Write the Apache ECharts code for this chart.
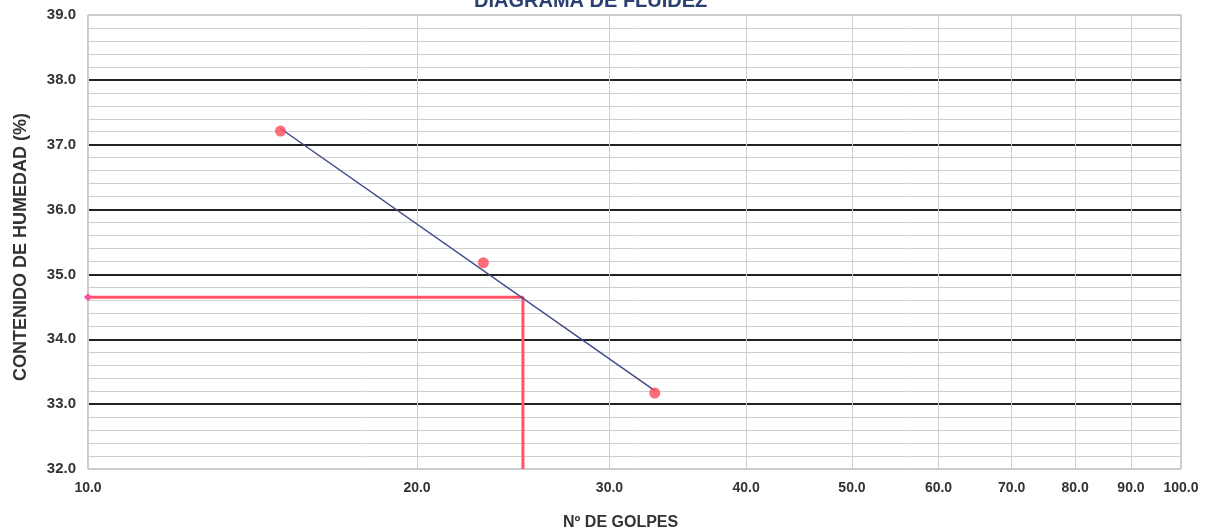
<!DOCTYPE html>
<html>
<head>
<meta charset="utf-8">
<script src="https://cdn.jsdelivr.net/npm/echarts@6/dist/echarts.min.js"></script>
<style>html,body{margin:0;padding:0;background:#fff;}#c{width:1206px;height:530px;}</style>
</head>
<body>
<div id="c"></div>
<script>
// Data
const golpes = [15, 23, 33];
const humedad = [37.21, 35.18, 33.17];
const trendX = [15, 33];
const trendY = [37.25, 33.21];
const llX = [10, 25, 25];
const llY = [34.65, 34.65, 32];
const xTicks = [10, 20, 30, 40, 50, 60, 70, 80, 90, 100];

const font = '"Liberation Sans", Arial, sans-serif';
const chart = echarts.init(document.getElementById('c'));
chart.setOption({
  backgroundColor: '#ffffff',
  animation: false,
  title: [
    { text: 'DIAGRAMA DE FLUIDEZ', left: 469, top: -14,
      textStyle: { fontFamily: font, fontSize: 20, fontWeight: 'bold', color: '#2a3f72' } },
    { text: 'Nº DE GOLPES', left: 558, top: 510,
      textStyle: { fontFamily: font, fontSize: 16, fontWeight: 'bold', color: '#333' } }
  ],
  grid: { left: 88, right: 25, top: 15, bottom: 61, show: true, borderColor: '#999', borderWidth: 1 },
  xAxis: {
    type: 'log', logBase: 10, min: 10, max: 100,
    axisLine: { show: false },
    axisTick: { show: false, customValues: xTicks },
    axisLabel: { customValues: xTicks, margin: 12, fontFamily: font, fontSize: 14, fontWeight: 'bold', color: '#333',
      formatter: v => Number(v).toFixed(1) },
    splitLine: { show: true, lineStyle: { color: '#cfcfcf', width: 1 } }
  },
  yAxis: {
    type: 'value', min: 32, max: 39, interval: 1,
    name: 'CONTENIDO DE HUMEDAD (%)', nameLocation: 'middle', nameGap: 58, nameRotate: 90,
    nameTextStyle: { fontFamily: font, fontSize: 18, fontWeight: 'bold', color: '#333', padding: [0, 10, 0, 0] },
    axisLine: { show: false },
    axisTick: { show: false },
    axisLabel: { margin: 12, fontFamily: font, fontSize: 15, fontWeight: 'bold', color: '#333',
      formatter: v => v.toFixed(1) },
    splitLine: { show: true, showMinLine: false, showMaxLine: false, lineStyle: { color: '#222', width: 2 } },
    minorTick: { show: false, splitNumber: 5 },
    minorSplitLine: { show: true, lineStyle: { color: '#cfcfcf', width: 1 } }
  },
  series: [
    { type: 'line', name: 'tendencia', data: trendX.map((x, i) => [x, trendY[i]]),
      showSymbol: false, symbol: 'none', lineStyle: { color: '#3d4a8c', width: 1.5 }, z: 3 },
    { type: 'line', name: 'LL', data: llX.map((x, i) => i === 0
        ? { value: [x, llY[i]], symbol: 'diamond', symbolSize: 8 }
        : { value: [x, llY[i]], symbol: 'none' }),
      showSymbol: true, itemStyle: { color: '#ff4fa0' },
      lineStyle: { color: '#ff5468', width: 3 }, z: 2 },
    { type: 'scatter', name: 'puntos', data: golpes.map((x, i) => [x, humedad[i]]),
      symbolSize: 11, itemStyle: { color: '#ff4a5a' }, z: 4 }
  ]
});
</script>
</body>
</html>
